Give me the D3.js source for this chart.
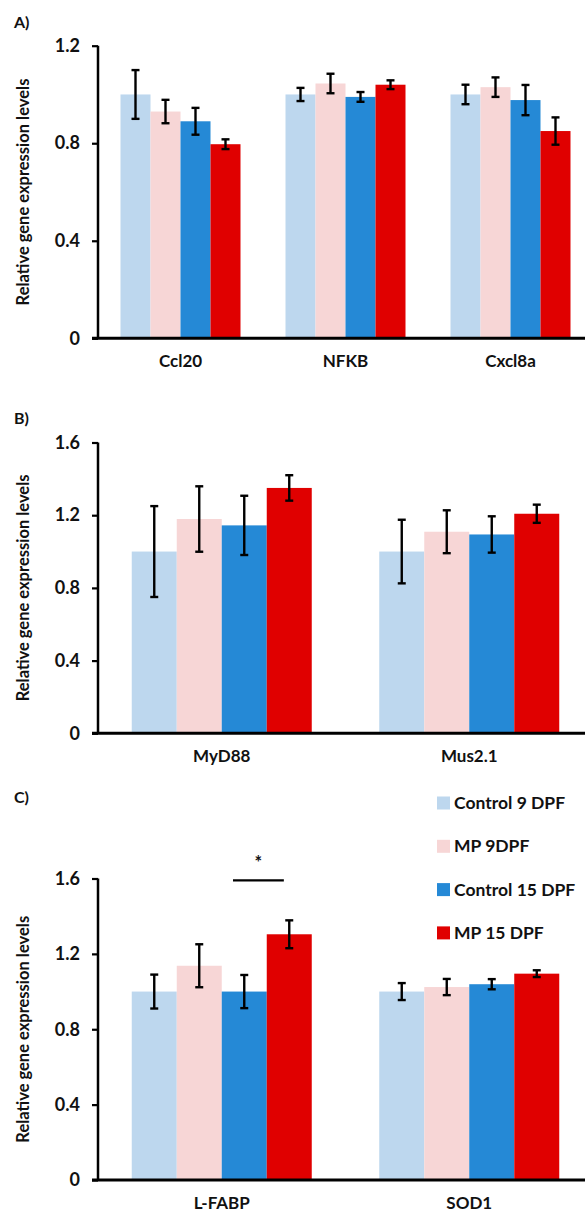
<!DOCTYPE html>
<html>
<head>
<meta charset="utf-8">
<script src="https://cdn.jsdelivr.net/npm/d3@7/dist/d3.min.js"></script>
<style>
  html, body { margin: 0; padding: 0; background: #fff; }
  svg { display: block; }
  text { font-family: Lato, "Open Sans", sans-serif; font-weight: bold; fill: #111; }
</style>
</head>
<body>
<svg id="chart" width="585" height="1217"></svg>
<script>
// ---- data ----
const seriesNames = ["Control 9 DPF", "MP 9DPF", "Control 15 DPF", "MP 15 DPF"];
const seriesColors = ["#BDD7EE", "#F7D6D6", "#2589D6", "#E00000"];

const categoriesA = ["Ccl20", "NFKB", "Cxcl8a"];
const control9A  = [1.00, 1.00, 1.00];
const mp9A       = [0.93, 1.045, 1.03];
const control15A = [0.89, 0.99, 0.977];
const mp15A      = [0.796, 1.04, 0.85];
const control9ErrA  = [0.10, 0.027, 0.04];
const mp9ErrA       = [0.048, 0.04, 0.04];
const control15ErrA = [0.055, 0.02, 0.062];
const mp15ErrA      = [0.02, 0.018, 0.056];
const ticksA = [0, 0.4, 0.8, 1.2];

const categoriesB = ["MyD88", "Mus2.1"];
const control9B  = [1.00, 1.00];
const mp9B       = [1.179, 1.109];
const control15B = [1.144, 1.094];
const mp15B      = [1.35, 1.208];
const control9ErrB  = [0.25, 0.175];
const mp9ErrB       = [0.18, 0.118];
const control15ErrB = [0.163, 0.10];
const mp15ErrB      = [0.07, 0.05];
const ticksB = [0, 0.4, 0.8, 1.2, 1.6];

const categoriesC = ["L-FABP", "SOD1"];
const control9C  = [1.00, 1.00];
const mp9C       = [1.137, 1.024];
const control15C = [1.00, 1.039];
const mp15C      = [1.304, 1.095];
const control9ErrC  = [0.09, 0.045];
const mp9ErrC       = [0.114, 0.043];
const control15ErrC = [0.088, 0.027];
const mp15ErrC      = [0.074, 0.018];
const ticksC = [0, 0.4, 0.8, 1.2, 1.6];

// significance bracket in panel C (between Control 15 DPF and MP 15 DPF of L-FABP)
const sigCategory = "L-FABP";
const sigFrom = "Control 15 DPF", sigTo = "MP 15 DPF";
const sigLevel = 1.59, sigLabel = "*";

const yTitle = "Relative gene expression levels";

// ---- drawing ----
const svg = d3.select("#chart");
const xLeft = 98, xRight = 593;

function panel(cfg) {
  const g = svg.append("g");
  const y = d3.scaleLinear().domain([0, cfg.ticks[cfg.ticks.length - 1]]).range([cfg.y0, cfg.y1]);
  const x = d3.scaleBand().domain(cfg.categories).range([xLeft, xRight])
    .paddingInner(1.5 / 5.5).paddingOuter(0.75 / 5.5);
  const xs = d3.scaleBand().domain(seriesNames).range([0, x.bandwidth()]);

  const rows = [];
  cfg.categories.forEach((c, i) => {
    seriesNames.forEach((s, j) => {
      rows.push({cat: c, series: s, color: seriesColors[j], v: cfg.values[j][i], e: cfg.errors[j][i]});
    });
  });

  // bars
  g.selectAll("rect.bar").data(rows).join("rect")
    .attr("class", "bar")
    .attr("x", d => x(d.cat) + xs(d.series))
    .attr("width", xs.bandwidth())
    .attr("y", d => y(d.v))
    .attr("height", d => y(0) - y(d.v))
    .attr("fill", d => d.color);

  // error bars
  const eb = g.selectAll("g.err").data(rows).join("g").attr("class", "err")
    .attr("stroke", "#000").attr("stroke-width", 2.4);
  const cx = d => x(d.cat) + xs(d.series) + xs.bandwidth() / 2;
  eb.append("line").attr("x1", cx).attr("x2", cx)
    .attr("y1", d => y(d.v + d.e)).attr("y2", d => y(d.v - d.e));
  eb.append("line").attr("x1", d => cx(d) - 4).attr("x2", d => cx(d) + 4)
    .attr("y1", d => y(d.v + d.e)).attr("y2", d => y(d.v + d.e));
  eb.append("line").attr("x1", d => cx(d) - 4).attr("x2", d => cx(d) + 4)
    .attr("y1", d => y(d.v - d.e)).attr("y2", d => y(d.v - d.e));

  // y axis
  const yAxis = d3.axisLeft(y).tickValues(cfg.ticks).tickSize(6).tickPadding(12)
    .tickFormat(d => d === 0 ? "0" : d3.format(".1f")(d));
  const ya = g.append("g").attr("transform", `translate(${xLeft},0)`).call(yAxis);
  ya.select(".domain").attr("d", `M0,${y(cfg.ticks[cfg.ticks.length-1])}V${y(0)}`)
    .attr("stroke", "#000").attr("stroke-width", 2.5);
  ya.selectAll(".tick line").attr("stroke", "#000").attr("stroke-width", 2.2);
  ya.selectAll(".tick text").attr("font-size", 18).attr("font-family", "Lato, sans-serif")
    .attr("font-weight", "bold").attr("fill", "#111");

  // x axis
  const xAxis = d3.axisBottom(x).tickSize(0).tickPadding(17);
  const xa = g.append("g").attr("transform", `translate(0,${y(0)})`).call(xAxis);
  xa.select(".domain").attr("d", `M${xLeft - 6},0H${xRight}`).attr("stroke", "#000").attr("stroke-width", 3);
  xa.selectAll(".tick text").attr("font-size", 17).attr("font-family", "Lato, sans-serif")
    .attr("font-weight", "bold").attr("fill", "#111");

  // y title
  const ymid = (y(0) + y(cfg.ticks[cfg.ticks.length-1])) / 2;
  g.append("text").attr("transform", `translate(29,${ymid}) rotate(-90)`)
    .attr("text-anchor", "middle").attr("font-size", 16.5).text(yTitle);

  // panel label
  g.append("text").attr("x", 14).attr("y", cfg.labelY).attr("font-size", 16).text(cfg.label);

  return {g, x, xs, y};
}

panel({label: "A)", labelY: 28, categories: categoriesA, ticks: ticksA, y0: 338.3, y1: 45.7,
  values: [control9A, mp9A, control15A, mp15A],
  errors: [control9ErrA, mp9ErrA, control15ErrA, mp15ErrA]});

panel({label: "B)", labelY: 424, categories: categoriesB, ticks: ticksB, y0: 733.3, y1: 442.5,
  values: [control9B, mp9B, control15B, mp15B],
  errors: [control9ErrB, mp9ErrB, control15ErrB, mp15ErrB]});

const pc = panel({label: "C)", labelY: 803, categories: categoriesC, ticks: ticksC, y0: 1180, y1: 878.5,
  values: [control9C, mp9C, control15C, mp15C],
  errors: [control9ErrC, mp9ErrC, control15ErrC, mp15ErrC]});

// significance
const bx1 = pc.x(sigCategory) + pc.xs(sigFrom) + pc.xs.bandwidth() * 0.25;
const bx2 = pc.x(sigCategory) + pc.xs(sigTo) + pc.xs.bandwidth() * 0.38;
pc.g.append("line").attr("x1", bx1).attr("x2", bx2)
  .attr("y1", pc.y(sigLevel)).attr("y2", pc.y(sigLevel))
  .attr("stroke", "#000").attr("stroke-width", 2.4);
pc.g.append("text").attr("x", (bx1 + bx2) / 2).attr("y", pc.y(sigLevel) - 11)
  .attr("text-anchor", "middle").attr("font-size", 18).text(sigLabel);

// legend
const legend = svg.append("g").attr("transform", "translate(437,803)");
const li = legend.selectAll("g").data(seriesNames).join("g")
  .attr("transform", (d, i) => `translate(0,${i * 43.3})`);
li.append("rect").attr("x", 0).attr("y", -6.5).attr("width", 13).attr("height", 13)
  .attr("fill", (d, i) => seriesColors[i]);
li.append("text").attr("x", 17).attr("y", 0).attr("dy", "0.35em").attr("font-size", 17.5).text(d => d);
</script>
</body>
</html>
